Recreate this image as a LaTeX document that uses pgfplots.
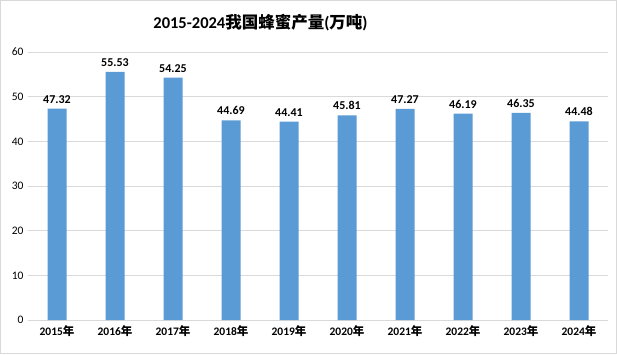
\documentclass[border=0pt]{standalone}
\usepackage{fontspec}
\setmainfont{Carlito}
\newfontfamily\cjk{Noto Sans CJK SC}
\usepackage{pgfplots}
\pgfplotsset{compat=1.18}
\definecolor{barblue}{HTML}{5B9BD5}
\definecolor{gridgray}{HTML}{D9D9D9}
\begin{document}
\begin{tikzpicture}[x=1pt,y=1pt]
\begin{axis}[
  name=ax,
  at={(0,0)}, anchor=south west,
  scale only axis, width=580pt, height=268pt,
  xmin=-0.5, xmax=9.5, ymin=0, ymax=60,
  ytick={0,10,...,60},
  xtick={0,...,9},
  xticklabels={2015{\cjk\bfseries 年},2016{\cjk\bfseries 年},2017{\cjk\bfseries 年},2018{\cjk\bfseries 年},2019{\cjk\bfseries 年},2020{\cjk\bfseries 年},2021{\cjk\bfseries 年},2022{\cjk\bfseries 年},2023{\cjk\bfseries 年},2024{\cjk\bfseries 年}},
  x tick label style={font=\bfseries\fontsize{11.5}{13}\selectfont, yshift=-2pt},
  y tick label style={font=\fontsize{11.5}{13}\selectfont, xshift=-1pt},
  /pgf/number format/assume math mode=true,
  axis x line*=bottom, axis y line*=left,
  x axis line style={gridgray, line width=0.8pt, -},
  y axis line style={draw=none},
  ymajorgrids, grid style={gridgray, line width=0.6pt},
  major tick length=0pt,
  ybar, bar width=19pt,
  nodes near coords,
  every node near coord/.append style={font=\bfseries\fontsize{12}{14}\selectfont, yshift=2pt, /pgf/number format/.cd, fixed, fixed zerofill, precision=2, assume math mode=true},
  clip=false,
]
\addplot[fill=barblue, draw=none] coordinates {(0,47.32) (1,55.53) (2,54.25) (3,44.69) (4,44.41) (5,45.81) (6,47.27) (7,46.19) (8,46.35) (9,44.48)};
\end{axis}
\path[use as bounding box] ([shift={(-28,-34)}]ax.south west) rectangle ([shift={(589,320)}]ax.south west);
\draw[gridgray, line width=0.8pt] ([shift={(-27.5,-33.5)}]ax.south west) rectangle ([shift={(588.5,319.5)}]ax.south west);
\node[font=\bfseries\fontsize{16.5}{19}\selectfont] at ([shift={(232.5,297)}]ax.south west) {2015-2024{\cjk\bfseries 我国蜂蜜产量}({\cjk\bfseries 万吨})};
\end{tikzpicture}
\end{document}
